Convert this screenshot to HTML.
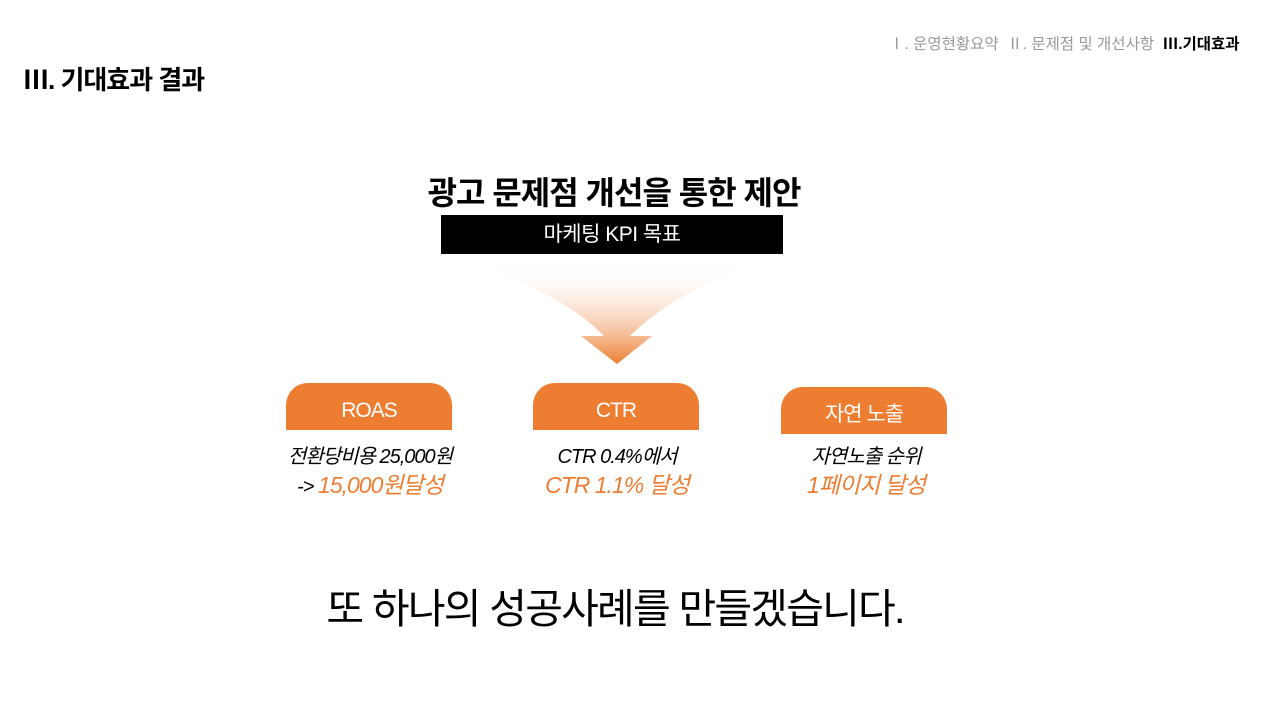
<!DOCTYPE html>
<html><head><meta charset="utf-8"><style>
*{margin:0;padding:0}
body{width:1280px;height:720px;background:#fff;position:relative;overflow:hidden;font-family:"Liberation Sans","Noto Sans CJK KR",sans-serif}
.a{position:absolute;white-space:nowrap}
.tab{position:absolute;width:166px;height:47px;background:#ed7d31;border-radius:22px 22px 0 0;color:#fff;font-size:21px;text-align:center;line-height:56px;letter-spacing:-1px}
.t{position:absolute;width:240px;text-align:center;font-style:italic;font-size:20px;letter-spacing:-1px;line-height:28px}
.o{color:#ed7d31;font-size:23px}
</style></head><body>
<div class="a" style="left:23px;top:60px;font-size:26px;font-weight:bold;letter-spacing:-1px">Ⅲ. 기대효과 결과</div>
<div class="a" style="left:889px;top:32px;font-size:15.5px;color:#999">Ⅰ. 운영현황요약 &nbsp;Ⅱ. 문제점 및 개선사항 &nbsp;<span style="color:#000;font-weight:bold">Ⅲ.기대효과</span></div>
<div class="a" style="left:0;width:1228px;text-align:center;top:168px;font-size:32px;font-weight:bold;letter-spacing:-1px">광고 문제점 개선을 통한 제안</div>
<div class="a" style="left:441px;top:215px;width:342px;height:39px;background:#000;color:#fff;font-size:21px;text-align:center;line-height:39px;letter-spacing:-0.5px">마케팅 KPI 목표</div>
<svg class="a" style="left:0;top:0" width="1280" height="720">
<defs><linearGradient id="g" x1="0" y1="0" x2="0" y2="1"><stop offset="0" stop-color="#fff" stop-opacity="0"/><stop offset="1" stop-color="#ed7d31"/></linearGradient></defs>
<path d="M470 262 L758 262 Q670 295 630 336 L652 336 L617 364 L581 336 L604 336 Q565 295 470 262Z" fill="url(#g)"/>
</svg>
<div class="tab" style="left:286px;top:383px">ROAS</div>
<div class="tab" style="left:533px;top:383px">CTR</div>
<div class="tab" style="left:781px;top:387px">자연 노출</div>
<div class="t" style="left:250px;top:443px">전환당비용 25,000원<br>-&gt; <span class="o">15,000원달성</span></div>
<div class="t" style="left:497px;top:443px">CTR 0.4%에서<br><span class="o">CTR 1.1% 달성</span></div>
<div class="t" style="left:746px;top:443px">자연노출 순위<br><span class="o">1페이지 달성</span></div>
<div class="a" style="left:0;width:1230px;text-align:center;top:575px;font-size:41px;letter-spacing:-1.8px">또 하나의 성공사례를 만들겠습니다.</div>
</body></html>
